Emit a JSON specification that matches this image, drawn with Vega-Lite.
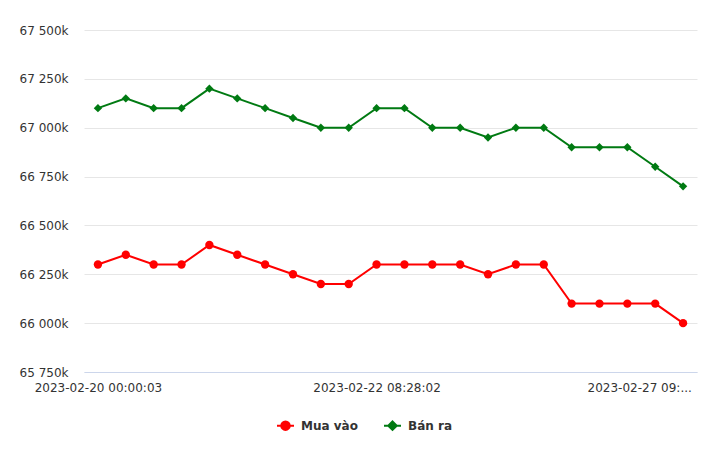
{
  "$schema": "https://vega.github.io/schema/vega-lite/v6.json",
  "autosize": "none",
  "width": 613,
  "height": 342,
  "padding": {"left": 84, "top": 30, "right": 23, "bottom": 78},
  "background": "#ffffff",
  "config": {
    "view": {"stroke": null},
    "font": "DejaVu Sans",
    "axis": {"labelFont": "DejaVu Sans", "labelFontSize": 12, "labelColor": "#333333"}
  },
  "data": {
    "values": [
      {"time": "2023-02-20 00:00:03", "series": "Mua vào", "value": 66300},
      {"time": "2023-02-20 08:30:01", "series": "Mua vào", "value": 66350},
      {"time": "2023-02-20 14:15:02", "series": "Mua vào", "value": 66300},
      {"time": "2023-02-21 00:00:02", "series": "Mua vào", "value": 66300},
      {"time": "2023-02-21 08:25:03", "series": "Mua vào", "value": 66400},
      {"time": "2023-02-21 10:40:01", "series": "Mua vào", "value": 66350},
      {"time": "2023-02-21 14:20:02", "series": "Mua vào", "value": 66300},
      {"time": "2023-02-21 16:05:01", "series": "Mua vào", "value": 66250},
      {"time": "2023-02-22 00:00:02", "series": "Mua vào", "value": 66200},
      {"time": "2023-02-22 08:10:03", "series": "Mua vào", "value": 66200},
      {"time": "2023-02-22 08:28:02", "series": "Mua vào", "value": 66300},
      {"time": "2023-02-22 14:30:01", "series": "Mua vào", "value": 66300},
      {"time": "2023-02-23 00:00:03", "series": "Mua vào", "value": 66300},
      {"time": "2023-02-23 08:30:02", "series": "Mua vào", "value": 66300},
      {"time": "2023-02-23 15:10:01", "series": "Mua vào", "value": 66250},
      {"time": "2023-02-24 00:00:02", "series": "Mua vào", "value": 66300},
      {"time": "2023-02-24 08:30:03", "series": "Mua vào", "value": 66300},
      {"time": "2023-02-25 00:00:01", "series": "Mua vào", "value": 66100},
      {"time": "2023-02-26 00:00:02", "series": "Mua vào", "value": 66100},
      {"time": "2023-02-27 00:00:03", "series": "Mua vào", "value": 66100},
      {"time": "2023-02-27 09:05:02", "series": "Mua vào", "value": 66100},
      {"time": "2023-02-27 14:30:01", "series": "Mua vào", "value": 66000},
      {"time": "2023-02-20 00:00:03", "series": "Bán ra", "value": 67100},
      {"time": "2023-02-20 08:30:01", "series": "Bán ra", "value": 67150},
      {"time": "2023-02-20 14:15:02", "series": "Bán ra", "value": 67100},
      {"time": "2023-02-21 00:00:02", "series": "Bán ra", "value": 67100},
      {"time": "2023-02-21 08:25:03", "series": "Bán ra", "value": 67200},
      {"time": "2023-02-21 10:40:01", "series": "Bán ra", "value": 67150},
      {"time": "2023-02-21 14:20:02", "series": "Bán ra", "value": 67100},
      {"time": "2023-02-21 16:05:01", "series": "Bán ra", "value": 67050},
      {"time": "2023-02-22 00:00:02", "series": "Bán ra", "value": 67000},
      {"time": "2023-02-22 08:10:03", "series": "Bán ra", "value": 67000},
      {"time": "2023-02-22 08:28:02", "series": "Bán ra", "value": 67100},
      {"time": "2023-02-22 14:30:01", "series": "Bán ra", "value": 67100},
      {"time": "2023-02-23 00:00:03", "series": "Bán ra", "value": 67000},
      {"time": "2023-02-23 08:30:02", "series": "Bán ra", "value": 67000},
      {"time": "2023-02-23 15:10:01", "series": "Bán ra", "value": 66950},
      {"time": "2023-02-24 00:00:02", "series": "Bán ra", "value": 67000},
      {"time": "2023-02-24 08:30:03", "series": "Bán ra", "value": 67000},
      {"time": "2023-02-25 00:00:01", "series": "Bán ra", "value": 66900},
      {"time": "2023-02-26 00:00:02", "series": "Bán ra", "value": 66900},
      {"time": "2023-02-27 00:00:03", "series": "Bán ra", "value": 66900},
      {"time": "2023-02-27 09:05:02", "series": "Bán ra", "value": 66800},
      {"time": "2023-02-27 14:30:01", "series": "Bán ra", "value": 66700}
    ]
  },
  "encoding": {
    "x": {
      "field": "time",
      "type": "ordinal",
      "sort": null,
      "scale": {"type": "point", "padding": 0.5},
      "axis": {
        "title": null,
        "labelAngle": 0,
        "values": ["2023-02-20 00:00:03", "2023-02-22 08:28:02", "2023-02-27 09:05:02"],
        "labelExpr": "datum.value === '2023-02-27 09:05:02' ? '2023-02-27 09:...' : datum.label",
        "labelOverlap": false,
        "labelBound": false,
        "labelFlush": false,
        "labelLimit": 300,
        "labelPadding": 10,
        "labelOffset": {"condition": {"test": "datum.value === '2023-02-27 09:05:02'", "value": -16}, "value": 0},
        "ticks": false,
        "domainColor": "#ccd6eb",
        "domainWidth": 1,
        "grid": false
      }
    },
    "y": {
      "field": "value",
      "type": "quantitative",
      "scale": {"domain": [65750, 67500], "nice": false, "zero": false},
      "axis": {
        "title": null,
        "values": [65750, 66000, 66250, 66500, 66750, 67000, 67250, 67500],
        "labelExpr": "replace(format(datum.value, ','), ',', ' ') + 'k'",
        "domain": false,
        "ticks": false,
        "labelPadding": 16,
        "gridColor": "#e6e6e6",
        "gridWidth": 1
      }
    },
    "color": {
      "field": "series",
      "type": "nominal",
      "scale": {"domain": ["Mua vào", "Bán ra"], "range": ["#ff0000", "#007a12"]},
      "legend": {
        "title": null,
        "orient": "none",
        "legendX": 192,
        "legendY": 386,
        "direction": "horizontal",
        "labelFont": "DejaVu Sans",
        "labelFontSize": 12,
        "labelFontWeight": "bold",
        "labelColor": "#333333",
        "symbolSize": 289,
        "symbolStrokeWidth": 2,
        "labelOffset": 6,
        "columnPadding": 22,
        "encode": {
          "symbols": {
            "update": {
              "shape": {"signal": "datum.value === 'Mua vào' ? 'M-1,0H1M-0.5,0A0.5,0.5 0 1,0 0.5,0A0.5,0.5 0 1,0 -0.5,0Z' : 'M-1,0H1M0,-0.5L0.5,0L0,0.5L-0.5,0Z'"},
              "fill": {"signal": "datum.value === 'Mua vào' ? '#ff0000' : '#007a12'"},
              "stroke": {"signal": "datum.value === 'Mua vào' ? '#ff0000' : '#007a12'"},
              "strokeWidth": {"value": 2},
              "opacity": {"value": 1},
              "fillOpacity": {"value": 1}
            }
          }
        }
      }
    }
  },
  "layer": [
    {"mark": {"type": "line", "strokeWidth": 2}},
    {
      "mark": {"type": "point", "filled": true, "opacity": 1, "size": 70},
      "encoding": {
        "shape": {
          "condition": {"test": "datum.series === 'Bán ra'", "value": "diamond"},
          "value": "circle"
        }
      }
    }
  ]
}
